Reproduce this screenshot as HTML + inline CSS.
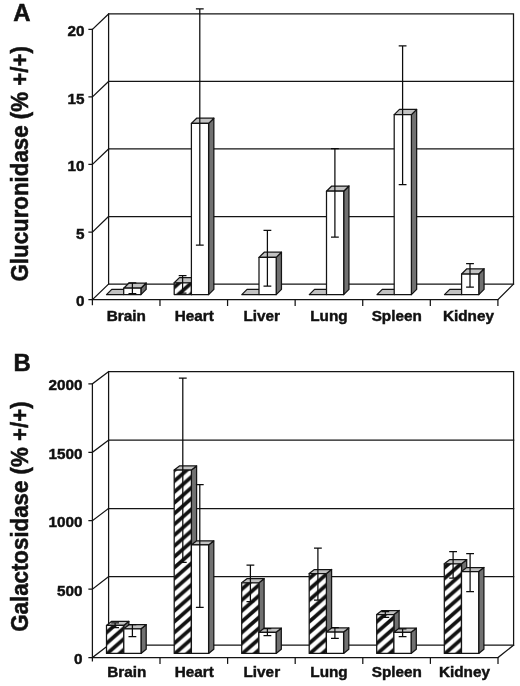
<!DOCTYPE html>
<html><head><meta charset="utf-8"><title>Figure</title>
<style>
html,body{margin:0;padding:0;background:#fff;}
body{width:520px;height:686px;overflow:hidden;}
svg{display:block;filter:grayscale(1);}
text{font-family:"Liberation Sans",sans-serif;font-weight:bold;fill:#111;}
.t15{font-size:15.3px;stroke:#111;stroke-width:.45px;}
.tt{font-size:22.3px;stroke:#111;stroke-width:.5px;}
.tl{font-size:23px;stroke:#111;stroke-width:.5px;}
</style></head>
<body>
<svg width="520" height="686" viewBox="0 0 520 686">
<defs><pattern id="hatch" patternUnits="userSpaceOnUse" x="0" y="-10.81" width="12.28" height="10.81"><rect width="12.28" height="10.81" fill="#fff"/><g fill="#111"><path d="M0 -2.5L12.28 -13.31V-8.31L0 2.5Z"/><path d="M0 8.31L12.28 -2.5V2.5L0 13.31Z"/><path d="M0 19.12L12.28 8.31V13.31L0 24.12Z"/></g></pattern></defs>
<rect width="520" height="686" fill="#fff"/>
<!-- Panel A -->
<g fill="none" stroke="#141414" stroke-width="1.25" stroke-linecap="square">
<path d="M108.6 13.9H513.5V284.1H108.6Z"/>
<path d="M108.6 81.4H513.5"/>
<path d="M108.6 148.9H513.5"/>
<path d="M108.6 216.5H513.5"/>
<path d="M92.4 29.45V304.5"/>
<path d="M89 29.45H92.4L108.6 13.9"/>
<path d="M89 96.9H92.4L108.6 81.4"/>
<path d="M89 164.45H92.4L108.6 148.9"/>
<path d="M89 232.1H92.4L108.6 216.5"/>
<path d="M89 299.7H92.4L108.6 284.1"/>
<path d="M92.4 299.7H497.9L513.5 284.1"/>
<path d="M159.98 299.7v5.7"/>
<path d="M227.57 299.7v5.7"/>
<path d="M295.15 299.7v5.7"/>
<path d="M362.73 299.7v5.7"/>
<path d="M430.32 299.7v5.7"/>
<path d="M497.9 299.7v5.7"/>
</g>
<g stroke="#141414" stroke-width="1.25" stroke-linejoin="round">
<path d="M106.5 294.6H123.7L128.95 289.4H111.75Z" fill="#c2c2c2"/>
</g>
<g stroke="#141414" stroke-width="1.25" stroke-linejoin="round">
<path d="M140.9 288.2L146.15 283V289.4L140.9 294.6Z" fill="#717171"/>
<path d="M123.7 288.2H140.9L146.15 283H128.95Z" fill="#c2c2c2"/>
<path d="M123.7 288.2H140.9V294.6H123.7Z" fill="#fff"/>
</g>
<path d="M132.4 282.8V293.6M128.5 282.8h7.8M128.5 293.6h7.8" fill="none" stroke="#0c0c0c" stroke-width="1.25"/>
<g stroke="#141414" stroke-width="1.25" stroke-linejoin="round">
<path d="M191.4 282.8L196.65 277.6V289.4L191.4 294.6Z" fill="#717171"/>
<path d="M174.2 282.8H191.4L196.65 277.6H179.45Z" fill="#c2c2c2"/>
<path d="M174.2 282.8H191.4V294.6H174.2Z" fill="#fff" stroke="none"/>
<path transform="translate(178.2 294.6)" d="M-4 -11.8H13.2V0H-4Z" fill="url(#hatch)"/>
</g>
<g stroke="#141414" stroke-width="1.25" stroke-linejoin="round">
<path d="M208.6 123.4L213.85 118.2V289.4L208.6 294.6Z" fill="#717171"/>
<path d="M191.4 123.4H208.6L213.85 118.2H196.65Z" fill="#c2c2c2"/>
<path d="M191.4 123.4H208.6V294.6H191.4Z" fill="#fff"/>
</g>
<path d="M182.6 275.5V293.1M178.7 275.5h7.8M178.7 293.1h7.8" fill="none" stroke="#0c0c0c" stroke-width="1.25"/>
<path d="M199.8 8.8V245.1M195.9 8.8h7.8M195.9 245.1h7.8" fill="none" stroke="#0c0c0c" stroke-width="1.25"/>
<g stroke="#141414" stroke-width="1.25" stroke-linejoin="round">
<path d="M241.8 294.6H259L264.25 289.4H247.05Z" fill="#c2c2c2"/>
</g>
<g stroke="#141414" stroke-width="1.25" stroke-linejoin="round">
<path d="M276.2 257.4L281.45 252.2V289.4L276.2 294.6Z" fill="#717171"/>
<path d="M259 257.4H276.2L281.45 252.2H264.25Z" fill="#c2c2c2"/>
<path d="M259 257.4H276.2V294.6H259Z" fill="#fff"/>
</g>
<path d="M267.4 230.3V286.2M263.5 230.3h7.8M263.5 286.2h7.8" fill="none" stroke="#0c0c0c" stroke-width="1.25"/>
<g stroke="#141414" stroke-width="1.25" stroke-linejoin="round">
<path d="M309.3 294.6H326.5L331.75 289.4H314.55Z" fill="#c2c2c2"/>
</g>
<g stroke="#141414" stroke-width="1.25" stroke-linejoin="round">
<path d="M343.7 191.2L348.95 186V289.4L343.7 294.6Z" fill="#717171"/>
<path d="M326.5 191.2H343.7L348.95 186H331.75Z" fill="#c2c2c2"/>
<path d="M326.5 191.2H343.7V294.6H326.5Z" fill="#fff"/>
</g>
<path d="M334.9 148.6V237.2M331 148.6h7.8M331 237.2h7.8" fill="none" stroke="#0c0c0c" stroke-width="1.25"/>
<g stroke="#141414" stroke-width="1.25" stroke-linejoin="round">
<path d="M377 294.6H394.2L399.45 289.4H382.25Z" fill="#c2c2c2"/>
</g>
<g stroke="#141414" stroke-width="1.25" stroke-linejoin="round">
<path d="M411.4 114.6L416.65 109.4V289.4L411.4 294.6Z" fill="#717171"/>
<path d="M394.2 114.6H411.4L416.65 109.4H399.45Z" fill="#c2c2c2"/>
<path d="M394.2 114.6H411.4V294.6H394.2Z" fill="#fff"/>
</g>
<path d="M402.6 45.8V184.6M398.7 45.8h7.8M398.7 184.6h7.8" fill="none" stroke="#0c0c0c" stroke-width="1.25"/>
<g stroke="#141414" stroke-width="1.25" stroke-linejoin="round">
<path d="M444.5 294.6H461.7L466.95 289.4H449.75Z" fill="#c2c2c2"/>
</g>
<g stroke="#141414" stroke-width="1.25" stroke-linejoin="round">
<path d="M478.8 274L484.05 268.8V289.4L478.8 294.6Z" fill="#717171"/>
<path d="M461.6 274H478.8L484.05 268.8H466.85Z" fill="#c2c2c2"/>
<path d="M461.6 274H478.8V294.6H461.6Z" fill="#fff"/>
</g>
<path d="M470 263.5V287M466.1 263.5h7.8M466.1 287h7.8" fill="none" stroke="#0c0c0c" stroke-width="1.25"/>
<text transform="translate(126.19 321.4) scale(1 1)" text-anchor="middle" class="t15">Brain</text>
<text transform="translate(194.18 321.4) scale(1 1)" text-anchor="middle" class="t15">Heart</text>
<text transform="translate(261.76 321.4) scale(1 1)" text-anchor="middle" class="t15">Liver</text>
<text transform="translate(328.94 321.4) scale(1 1)" text-anchor="middle" class="t15">Lung</text>
<text transform="translate(396.72 321.4) scale(1 1)" text-anchor="middle" class="t15">Spleen</text>
<text transform="translate(468.41 321.4) scale(1 1)" text-anchor="middle" class="t15">Kidney</text>
<text transform="translate(84.4 36.05) scale(1 1)" text-anchor="end" class="t15">20</text>
<text transform="translate(84.4 103.5) scale(1 1)" text-anchor="end" class="t15">15</text>
<text transform="translate(84.4 171.05) scale(1 1)" text-anchor="end" class="t15">10</text>
<text transform="translate(84.4 238.7) scale(1 1)" text-anchor="end" class="t15">5</text>
<text transform="translate(84.4 306.3) scale(1 1)" text-anchor="end" class="t15">0</text>
<text transform="translate(28.2 281.5) rotate(-90) scale(1 1.04)" class="tt">Glucuronidase (% +/+)</text>
<text transform="translate(13.2 20.6) scale(1.04 1)" class="tl">A</text>
<!-- Panel B -->
<g fill="none" stroke="#141414" stroke-width="1.25" stroke-linecap="square">
<path d="M108.6 371.7H513.6V645.1H108.6Z"/>
<path d="M108.6 440.1H513.6"/>
<path d="M108.6 508.5H513.6"/>
<path d="M108.6 576.7H513.6"/>
<path d="M92.4 383.8V660.8"/>
<path d="M89 383.8H92.4L108.6 371.7"/>
<path d="M89 452.3H92.4L108.6 440.1"/>
<path d="M89 520.7H92.4L108.6 508.5"/>
<path d="M89 589.2H92.4L108.6 576.7"/>
<path d="M89 657.6H92.4L108.6 645.1"/>
<path d="M92.4 657.6H498L513.6 645.1"/>
<path d="M160 657.6v5.7"/>
<path d="M227.6 657.6v5.7"/>
<path d="M295.2 657.6v5.7"/>
<path d="M362.8 657.6v5.7"/>
<path d="M430.4 657.6v5.7"/>
<path d="M498 657.6v5.7"/>
</g>
<g stroke="#141414" stroke-width="1.25" stroke-linejoin="round">
<path d="M123.7 625.4L128.9 621.3V649.3L123.7 653.4Z" fill="#717171"/>
<path d="M106.5 625.4H123.7L128.9 621.3H111.7Z" fill="#c2c2c2"/>
<path d="M106.5 625.4H123.7V653.4H106.5Z" fill="#fff" stroke="none"/>
<path transform="translate(107.4 653.4)" d="M-0.9 -28H16.3V0H-0.9Z" fill="url(#hatch)"/>
</g>
<g stroke="#141414" stroke-width="1.25" stroke-linejoin="round">
<path d="M141 628.8L146.2 624.7V649.3L141 653.4Z" fill="#717171"/>
<path d="M123.8 628.8H141L146.2 624.7H129Z" fill="#c2c2c2"/>
<path d="M123.8 628.8H141V653.4H123.8Z" fill="#fff"/>
</g>
<path d="M115.1 622.8V627.5M111.2 622.8h7.8M111.2 627.5h7.8" fill="none" stroke="#0c0c0c" stroke-width="1.25"/>
<path d="M132.4 624.6V636.5M128.5 624.6h7.8M128.5 636.5h7.8" fill="none" stroke="#0c0c0c" stroke-width="1.25"/>
<g stroke="#141414" stroke-width="1.25" stroke-linejoin="round">
<path d="M191.4 470L196.6 465.9V649.3L191.4 653.4Z" fill="#717171"/>
<path d="M174.2 470H191.4L196.6 465.9H179.4Z" fill="#c2c2c2"/>
<path d="M174.2 470H191.4V653.4H174.2Z" fill="#fff" stroke="none"/>
<path transform="translate(175.1 653.4)" d="M-0.9 -183.4H16.3V0H-0.9Z" fill="url(#hatch)"/>
</g>
<g stroke="#141414" stroke-width="1.25" stroke-linejoin="round">
<path d="M208.6 544.9L213.8 540.8V649.3L208.6 653.4Z" fill="#717171"/>
<path d="M191.4 544.9H208.6L213.8 540.8H196.6Z" fill="#c2c2c2"/>
<path d="M191.4 544.9H208.6V653.4H191.4Z" fill="#fff"/>
</g>
<path d="M182.8 378.2V562.3M178.9 378.2h7.8M178.9 562.3h7.8" fill="none" stroke="#0c0c0c" stroke-width="1.25"/>
<path d="M199.8 484.6V607.4M195.9 484.6h7.8M195.9 607.4h7.8" fill="none" stroke="#0c0c0c" stroke-width="1.25"/>
<g stroke="#141414" stroke-width="1.25" stroke-linejoin="round">
<path d="M258.9 582.8L264.1 578.7V649.3L258.9 653.4Z" fill="#717171"/>
<path d="M241.7 582.8H258.9L264.1 578.7H246.9Z" fill="#c2c2c2"/>
<path d="M241.7 582.8H258.9V653.4H241.7Z" fill="#fff" stroke="none"/>
<path transform="translate(242.6 653.4)" d="M-0.9 -70.6H16.3V0H-0.9Z" fill="url(#hatch)"/>
</g>
<g stroke="#141414" stroke-width="1.25" stroke-linejoin="round">
<path d="M276.1 632.3L281.3 628.2V649.3L276.1 653.4Z" fill="#717171"/>
<path d="M258.9 632.3H276.1L281.3 628.2H264.1Z" fill="#c2c2c2"/>
<path d="M258.9 632.3H276.1V653.4H258.9Z" fill="#fff"/>
</g>
<path d="M250.4 565.1V601.5M246.5 565.1h7.8M246.5 601.5h7.8" fill="none" stroke="#0c0c0c" stroke-width="1.25"/>
<path d="M267.4 628.7V635.7M263.5 628.7h7.8M263.5 635.7h7.8" fill="none" stroke="#0c0c0c" stroke-width="1.25"/>
<g stroke="#141414" stroke-width="1.25" stroke-linejoin="round">
<path d="M326.4 573.6L331.6 569.5V649.3L326.4 653.4Z" fill="#717171"/>
<path d="M309.2 573.6H326.4L331.6 569.5H314.4Z" fill="#c2c2c2"/>
<path d="M309.2 573.6H326.4V653.4H309.2Z" fill="#fff" stroke="none"/>
<path transform="translate(310.1 653.4)" d="M-0.9 -79.8H16.3V0H-0.9Z" fill="url(#hatch)"/>
</g>
<g stroke="#141414" stroke-width="1.25" stroke-linejoin="round">
<path d="M343.6 632L348.8 627.9V649.3L343.6 653.4Z" fill="#717171"/>
<path d="M326.4 632H343.6L348.8 627.9H331.6Z" fill="#c2c2c2"/>
<path d="M326.4 632H343.6V653.4H326.4Z" fill="#fff"/>
</g>
<path d="M317.9 548V600.1M314 548h7.8M314 600.1h7.8" fill="none" stroke="#0c0c0c" stroke-width="1.25"/>
<path d="M334.9 627.6V638.4M331 627.6h7.8M331 638.4h7.8" fill="none" stroke="#0c0c0c" stroke-width="1.25"/>
<g stroke="#141414" stroke-width="1.25" stroke-linejoin="round">
<path d="M393.9 614.6L399.1 610.5V649.3L393.9 653.4Z" fill="#717171"/>
<path d="M376.7 614.6H393.9L399.1 610.5H381.9Z" fill="#c2c2c2"/>
<path d="M376.7 614.6H393.9V653.4H376.7Z" fill="#fff" stroke="none"/>
<path transform="translate(377.6 653.4)" d="M-0.9 -38.8H16.3V0H-0.9Z" fill="url(#hatch)"/>
</g>
<g stroke="#141414" stroke-width="1.25" stroke-linejoin="round">
<path d="M411.1 632.3L416.3 628.2V649.3L411.1 653.4Z" fill="#717171"/>
<path d="M393.9 632.3H411.1L416.3 628.2H399.1Z" fill="#c2c2c2"/>
<path d="M393.9 632.3H411.1V653.4H393.9Z" fill="#fff"/>
</g>
<path d="M385.3 611.5V617.3M381.4 611.5h7.8M381.4 617.3h7.8" fill="none" stroke="#0c0c0c" stroke-width="1.25"/>
<path d="M402.6 628.8V636.6M398.7 628.8h7.8M398.7 636.6h7.8" fill="none" stroke="#0c0c0c" stroke-width="1.25"/>
<g stroke="#141414" stroke-width="1.25" stroke-linejoin="round">
<path d="M461.5 563.8L466.7 559.7V649.3L461.5 653.4Z" fill="#717171"/>
<path d="M444.3 563.8H461.5L466.7 559.7H449.5Z" fill="#c2c2c2"/>
<path d="M444.3 563.8H461.5V653.4H444.3Z" fill="#fff" stroke="none"/>
<path transform="translate(445.2 653.4)" d="M-0.9 -89.6H16.3V0H-0.9Z" fill="url(#hatch)"/>
</g>
<g stroke="#141414" stroke-width="1.25" stroke-linejoin="round">
<path d="M478.7 571.6L483.9 567.5V649.3L478.7 653.4Z" fill="#717171"/>
<path d="M461.5 571.6H478.7L483.9 567.5H466.7Z" fill="#c2c2c2"/>
<path d="M461.5 571.6H478.7V653.4H461.5Z" fill="#fff"/>
</g>
<path d="M453.1 551.6V578.2M449.2 551.6h7.8M449.2 578.2h7.8" fill="none" stroke="#0c0c0c" stroke-width="1.25"/>
<path d="M470.1 553.5V591.5M466.2 553.5h7.8M466.2 591.5h7.8" fill="none" stroke="#0c0c0c" stroke-width="1.25"/>
<text transform="translate(126.7 677.4) scale(1 1)" text-anchor="middle" class="t15">Brain</text>
<text transform="translate(194.2 677.4) scale(1 1)" text-anchor="middle" class="t15">Heart</text>
<text transform="translate(261.8 677.4) scale(1 1)" text-anchor="middle" class="t15">Liver</text>
<text transform="translate(329 677.4) scale(1 1)" text-anchor="middle" class="t15">Lung</text>
<text transform="translate(396.8 677.4) scale(1 1)" text-anchor="middle" class="t15">Spleen</text>
<text transform="translate(464.4 677.4) scale(1 1)" text-anchor="middle" class="t15">Kidney</text>
<text transform="translate(82.6 390.4) scale(1 1)" text-anchor="end" class="t15">2000</text>
<text transform="translate(82.6 458.9) scale(1 1)" text-anchor="end" class="t15">1500</text>
<text transform="translate(82.6 527.3) scale(1 1)" text-anchor="end" class="t15">1000</text>
<text transform="translate(82.6 595.8) scale(1 1)" text-anchor="end" class="t15">500</text>
<text transform="translate(82.6 664.2) scale(1 1)" text-anchor="end" class="t15">0</text>
<text transform="translate(28.2 631.8) rotate(-90) scale(1 1.04)" class="tt">Galactosidase (% +/+)</text>
<text transform="translate(13.6 370.7) scale(1.04 1)" class="tl">B</text>
</svg>
</body></html>
